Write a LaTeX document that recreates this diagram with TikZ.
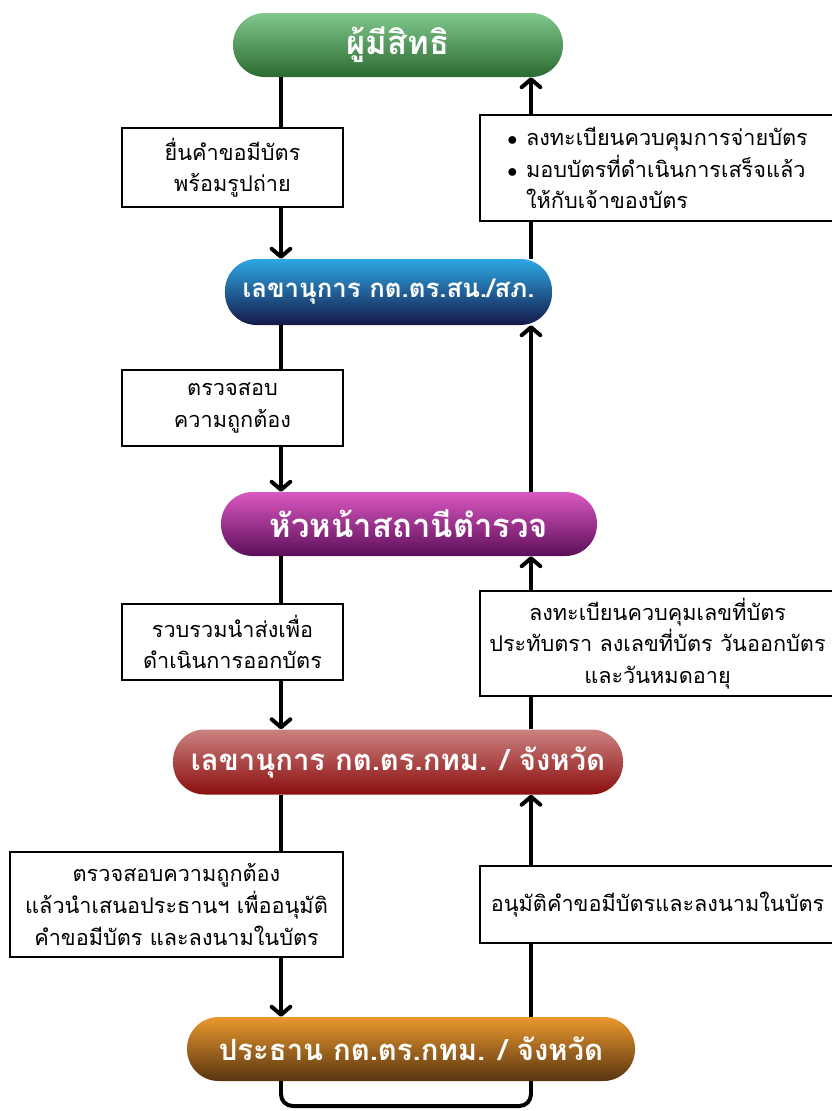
\documentclass[tikz,border=0pt]{standalone}
\usepackage{fontspec}
\setmainfont[Script=Thai]{Loma}
\usepackage{xcolor}
\usepackage{tikz}
\usetikzlibrary{arrows.meta}

\definecolor{greenhi}{HTML}{80C88C}
\definecolor{greenlo}{HTML}{2B6A31}
\definecolor{bluehi}{HTML}{2EA8E4}
\definecolor{bluelo}{HTML}{141848}
\definecolor{purplehi}{HTML}{DA58C2}
\definecolor{purplelo}{HTML}{5C0E58}
\definecolor{redhi}{HTML}{CC8280}
\definecolor{redlo}{HTML}{8A0E0E}
\definecolor{orangehi}{HTML}{EA982E}
\definecolor{orangelo}{HTML}{583410}

\begin{document}
\begin{tikzpicture}[x=0.03cm, y=-0.03cm,
		pill/.style={rounded corners=0.95cm, text=white, inner sep=0pt, minimum height=1.92cm, font=\fontsize{25}{30}\selectfont\bfseries},
		note/.style={draw, fill=white, line width=1.7pt, inner sep=0pt, align=center, font=\fontsize{18.5}{27}\selectfont},
		link/.style={line width=3.4pt},
		arr/.style={line width=3.4pt, -{Straight Barb[length=2.4mm, width=5.6mm, line cap=round, line join=round]}}]
		\useasboundingbox (0,0) rectangle (831,1111);
		\coordinate (lx) at (281,0);
		\coordinate (rx) at (531,0);
		\coordinate (floor) at (0,1106);

		\node[pill, top color=greenhi, bottom color=greenlo, minimum width=9.9cm, font=\fontsize{28}{32}\selectfont\bfseries] (owner) at (398,45) {ผู้มีสิทธิ};
		\node[pill, top color=bluehi, bottom color=bluelo, minimum width=9.81cm, minimum height=1.98cm, font=\fontsize{22}{28}\selectfont\bfseries] (secst) at (388.5,292) {เลขานุการ กต.ตร.สน./สภ.};
		\node[pill, top color=purplehi, bottom color=purplelo, minimum width=11.28cm, font=\fontsize{28}{32}\selectfont\bfseries] (chief) at (409,524) {หัวหน้าสถานีตำรวจ};
		\node[pill, top color=redhi, bottom color=redlo, minimum width=13.5cm, minimum height=1.95cm] (secpv) at (398,762) {เลขานุการ กต.ตร.กทม. / จังหวัด};
		\node[pill, top color=orangehi, bottom color=orangelo, minimum width=13.44cm] (chair) at (411,1049) {ประธาน กต.ตร.กทม. / จังหวัด};

		\node[note, minimum width=6.63cm, minimum height=2.37cm] (apply) at (232.5,167.5) {ยื่นคำขอมีบัตร\\พร้อมรูปถ่าย};
		\node[note, minimum width=6.63cm, minimum height=2.28cm] (check) at (232.5,408) {ตรวจสอบ\\ความถูกต้อง};
		\node[note, minimum width=6.63cm, minimum height=2.28cm] (collect) at (232.5,642) {รวบรวมนำส่งเพื่อ\\ดำเนินการออกบัตร};
		\node[note, minimum width=9.99cm, minimum height=3.15cm] (propose) at (176.5,904.5) {ตรวจสอบความถูกต้อง\\แล้วนำเสนอประธานฯ เพื่ออนุมัติ\\คำขอมีบัตร และลงนามในบัตร};
		\node[note, minimum width=10.65cm, minimum height=2.31cm] (approve) at (657.5,904.5) {อนุมัติคำขอมีบัตรและลงนามในบัตร};
		\node[note, minimum width=10.65cm, minimum height=3.15cm] (register) at (657.5,643.5) {ลงทะเบียนควบคุมเลขที่บัตร\\ประทับตรา ลงเลขที่บัตร วันออกบัตร\\และวันหมดอายุ};
		\node[note, align=left, minimum width=10.65cm, minimum height=3.18cm] (deliver) at (657.5,168) {\makebox[16pt][l]{$\bullet$}ลงทะเบียนควบคุมการจ่ายบัตร\\\makebox[16pt][l]{$\bullet$}มอบบัตรที่ดำเนินการเสร็จแล้ว\\\hspace*{16pt}ให้กับเจ้าของบัตร};

		\draw[link] (owner.south -| lx) -- (apply.north -| lx);
		\draw[arr] (apply.south -| lx) -- (secst.north -| lx);
		\draw[link] (secst.south -| lx) -- (check.north -| lx);
		\draw[arr] (check.south -| lx) -- (chief.north -| lx);
		\draw[link] (chief.south -| lx) -- (collect.north -| lx);
		\draw[arr] (collect.south -| lx) -- (secpv.north -| lx);
		\draw[link] (secpv.south -| lx) -- (propose.north -| lx);
		\draw[arr] (propose.south -| lx) -- (chair.north -| lx);

		\draw[link, rounded corners=0.35cm] (chair.south -| lx) -- (lx |- floor) -- (rx |- floor) -- (chair.south -| rx);
		\draw[link] (chair.north -| rx) -- (approve.south -| rx);
		\draw[arr] (approve.north -| rx) -- (secpv.south -| rx);
		\draw[link] (secpv.north -| rx) -- (register.south -| rx);
		\draw[arr] (register.north -| rx) -- (chief.south -| rx);
		\draw[arr] (chief.north -| rx) -- (secst.south -| rx);
		\draw[link] (secst.north -| rx) -- (deliver.south -| rx);
		\draw[arr] (deliver.north -| rx) -- (owner.south -| rx);
	\end{tikzpicture}
\end{document}
